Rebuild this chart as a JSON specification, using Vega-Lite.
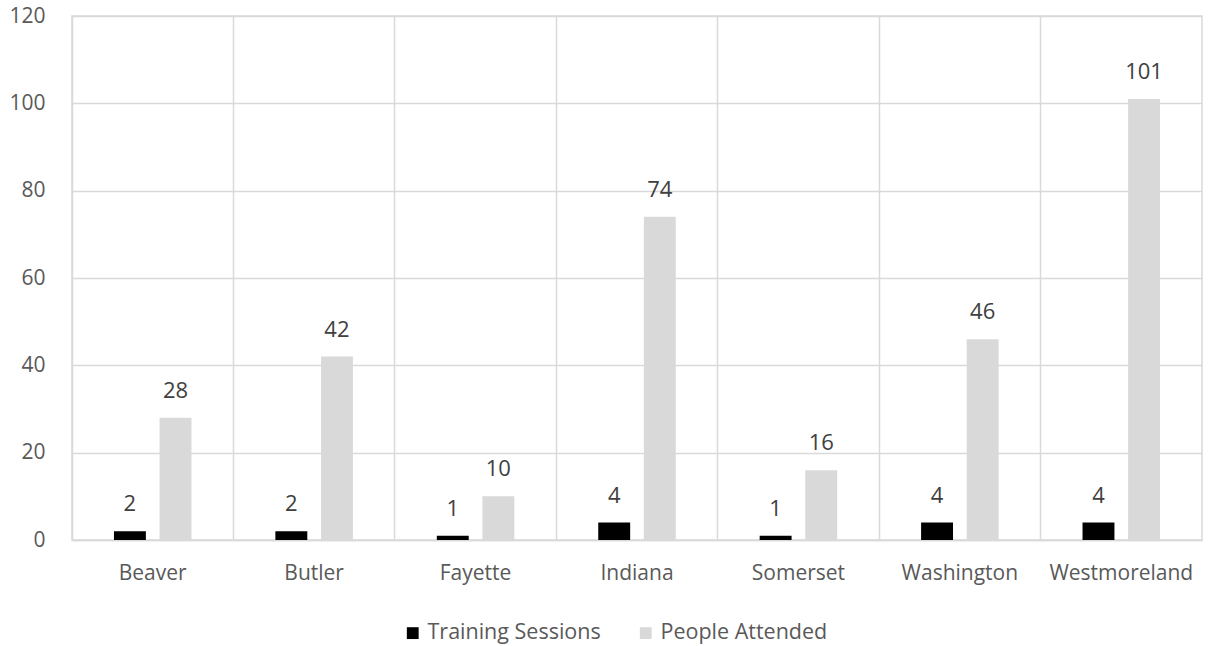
{
  "$schema": "https://vega.github.io/schema/vega-lite/v6.json",
  "width": 1130,
  "height": 524,
  "autosize": {"type": "none"},
  "padding": {"left": 72, "top": 16, "right": 6, "bottom": 106},
  "background": "white",
  "data": {
    "values": [
      {"County": "Beaver", "Series": "Training Sessions", "Value": 2},
      {"County": "Beaver", "Series": "People Attended", "Value": 28},
      {"County": "Butler", "Series": "Training Sessions", "Value": 2},
      {"County": "Butler", "Series": "People Attended", "Value": 42},
      {"County": "Fayette", "Series": "Training Sessions", "Value": 1},
      {"County": "Fayette", "Series": "People Attended", "Value": 10},
      {"County": "Indiana", "Series": "Training Sessions", "Value": 4},
      {"County": "Indiana", "Series": "People Attended", "Value": 74},
      {"County": "Somerset", "Series": "Training Sessions", "Value": 1},
      {"County": "Somerset", "Series": "People Attended", "Value": 16},
      {"County": "Washington", "Series": "Training Sessions", "Value": 4},
      {"County": "Washington", "Series": "People Attended", "Value": 46},
      {"County": "Westmoreland", "Series": "Training Sessions", "Value": 4},
      {"County": "Westmoreland", "Series": "People Attended", "Value": 101}
    ]
  },
  "encoding": {
    "x": {
      "field": "County", "type": "nominal", "sort": null, "title": null,
      "scale": {"paddingInner": 0, "paddingOuter": 0},
      "axis": {
        "labelAngle": 0, "ticks": false, "domainColor": "#d9d9d9", "domainWidth": 1.5,
        "grid": true, "bandPosition": 0, "gridColor": "#d9d9d9", "gridWidth": 1.5,
        "labelFontSize": 21, "labelColor": "#595959", "labelFont": "Open Sans", "labelPadding": 22
      }
    },
    "xOffset": {
      "field": "Series", "type": "nominal",
      "sort": ["Training Sessions", "People Attended"],
      "scale": {"paddingInner": 0.3, "paddingOuter": 0.92}
    },
    "y": {
      "field": "Value", "type": "quantitative", "title": null,
      "scale": {"domain": [0, 120], "nice": false},
      "axis": {
        "values": [0, 20, 40, 60, 80, 100, 120], "ticks": false, "domain": false,
        "gridColor": "#d9d9d9", "gridWidth": 1.5,
        "labelFontSize": 21, "labelColor": "#595959", "labelFont": "Open Sans", "labelPadding": 27
      }
    }
  },
  "layer": [
    {
      "mark": {"type": "bar"},
      "encoding": {
        "color": {
          "field": "Series", "type": "nominal",
          "scale": {"domain": ["Training Sessions", "People Attended"], "range": ["#000000", "#d9d9d9"]},
          "legend": {
            "title": null, "orient": "none", "direction": "horizontal",
            "legendX": 330, "legendY": 606,
            "symbolType": "square", "symbolSize": 140, "symbolStrokeWidth": 0,
            "labelFontSize": 21.5, "labelColor": "#595959", "labelFont": "Open Sans",
            "labelLimit": 0, "columnPadding": 34
          }
        }
      }
    },
    {
      "mark": {"type": "text", "baseline": "bottom", "dy": -15, "fontSize": 22, "font": "Open Sans", "color": "#404040"},
      "encoding": {
        "text": {"field": "Value", "type": "quantitative"}
      }
    }
  ],
  "config": {
    "view": {"stroke": "#d9d9d9", "strokeWidth": 1.5}
  }
}
